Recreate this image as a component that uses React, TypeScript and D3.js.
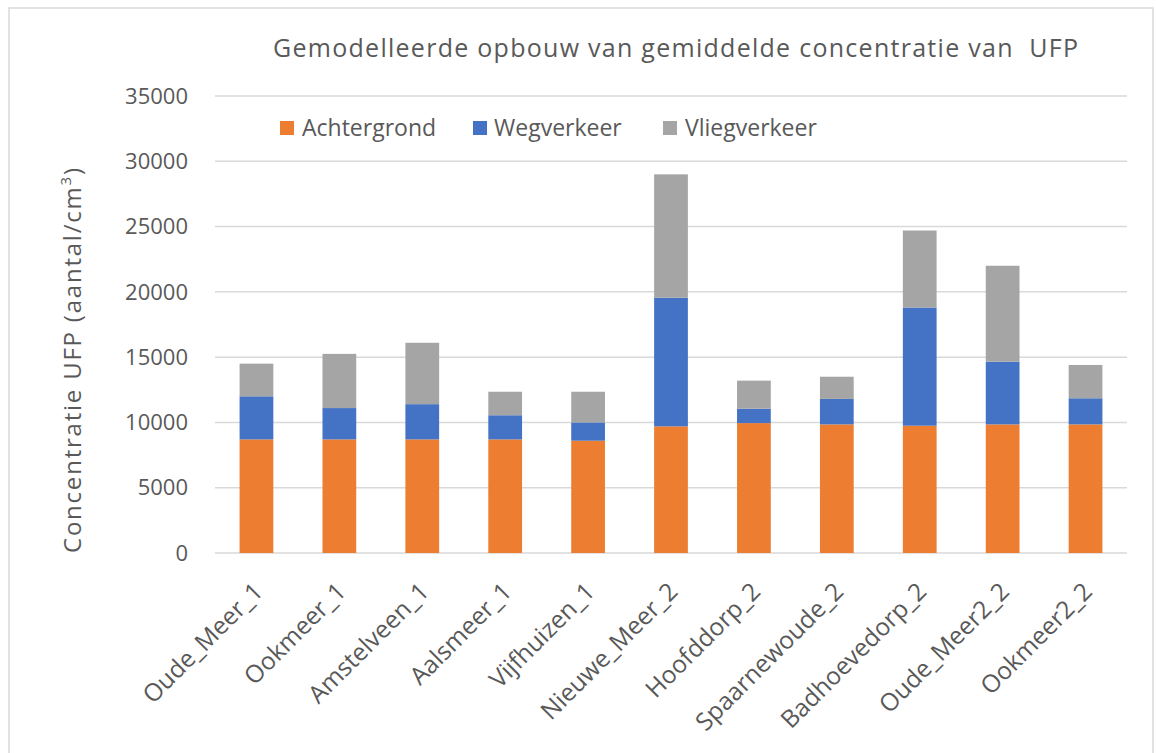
import React from "react";
import * as d3 from "d3";

const categories = [
  "Oude_Meer_1",
  "Ookmeer_1",
  "Amstelveen_1",
  "Aalsmeer_1",
  "Vijfhuizen_1",
  "Nieuwe_Meer_2",
  "Hoofddorp_2",
  "Spaarnewoude_2",
  "Badhoevedorp_2",
  "Oude_Meer2_2",
  "Ookmeer2_2",
];
const achtergrond = [8700, 8700, 8700, 8700, 8600, 9700, 9950, 9850, 9750, 9850, 9850];
const wegverkeer = [3300, 2400, 2700, 1850, 1400, 9850, 1100, 1950, 9050, 4800, 2000];
const vliegverkeer = [2500, 4150, 4700, 1800, 2350, 9450, 2150, 1700, 5900, 7350, 2550];
const seriesNames = ["Achtergrond", "Wegverkeer", "Vliegverkeer"];
const seriesColors = ["#ED7D31", "#4472C4", "#A5A5A5"];
const yTicks = [0, 5000, 10000, 15000, 20000, 25000, 30000, 35000];
const title = "Gemodelleerde opbouw van gemiddelde concentratie van\u00a0 UFP";

const FONT = "'Open Sans', 'Noto Sans', sans-serif";
const TXT = "#595959";

export default function App() {
  const W = 1156;
  const H = 753;
  const x = d3.scaleBand<string>().domain(categories).range([215, 1127]).paddingInner(0.593).paddingOuter(0.2965);
  const y = d3.scaleLinear().domain([0, 35000]).range([553, 96]);

  const rows = categories.map((c, i) => ({
    cat: c,
    Achtergrond: achtergrond[i],
    Wegverkeer: wegverkeer[i],
    Vliegverkeer: vliegverkeer[i],
  }));
  const stack = d3.stack<any>().keys(seriesNames)(rows);

  const legendSquareX = [280, 473, 663];
  const legendTextX = [302, 494, 685];

  return (
    <svg width={W} height={H} style={{ position: "absolute", left: 0, top: 0, background: "#fff" }} fontFamily={FONT}>
      <rect x={0} y={0} width={W} height={H} fill="#fff" />
      <rect x={9} y={8} width={1144} height={800} fill="#fff" stroke="#d9d9d9" strokeWidth={1.5} />
      <text x={273} y={57} fontSize={25} fill={TXT} textLength={805} lengthAdjust="spacing">
        {title}
      </text>
      {yTicks.map((t) => (
        <g key={t}>
          <line x1={215} x2={1127} y1={y(t)} y2={y(t)} stroke="#d9d9d9" strokeWidth={1.5} />
          <text x={188} y={y(t)} dy="0.35em" textAnchor="end" fontSize={22} fill={TXT}>
            {t}
          </text>
        </g>
      ))}
      {stack.map((s, si) => (
        <g key={si} fill={seriesColors[si]}>
          {s.map((d, i) => (
            <rect
              key={i}
              x={x(categories[i])}
              width={x.bandwidth()}
              y={y(d[1])}
              height={y(d[0]) - y(d[1])}
            />
          ))}
        </g>
      ))}
      {seriesNames.map((n, i) => (
        <g key={n}>
          <rect x={legendSquareX[i]} y={121} width={14} height={14} fill={seriesColors[i]} />
          <text x={legendTextX[i]} y={136} fontSize={23} fill={TXT}>
            {n}
          </text>
        </g>
      ))}
      {categories.map((c) => {
        const cx = (x(c) as number) + x.bandwidth() / 2;
        return (
          <text
            key={c}
            transform={`translate(${cx + 2},${587}) rotate(-45)`}
            textAnchor="end"
            dy="0.35em"
            fontSize={24.5}
            fill={TXT}
          >
            {c}
          </text>
        );
      })}
      <text transform={`translate(81,553) rotate(-90)`} fontSize={24} fill={TXT} textLength={385} lengthAdjust="spacing">
        Concentratie UFP (aantal/cm
        <tspan fontSize={15} dy={-10}>3</tspan>
        <tspan dy={10}>)</tspan>
      </text>
    </svg>
  );
}
